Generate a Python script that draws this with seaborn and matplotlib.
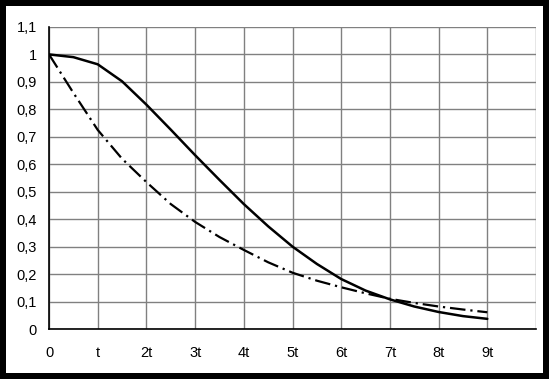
import matplotlib.pyplot as plt
import seaborn as sns
import pandas as pd

# values (x in units of t)
x_vals = [0, 0.5, 1, 1.5, 2, 2.5, 3, 3.5, 4, 4.5, 5, 5.5, 6, 6.5, 7, 7.5, 8, 8.5, 9]
solid_vals = [1.0, 0.99, 0.964, 0.902, 0.817, 0.726, 0.633, 0.543, 0.455, 0.374, 0.30,
              0.237, 0.182, 0.14, 0.108, 0.082, 0.062, 0.047, 0.037]
dashdot_vals = [1.0, 0.86, 0.725, 0.62, 0.535, 0.455, 0.39, 0.335, 0.288, 0.243, 0.205,
                0.176, 0.152, 0.13, 0.11, 0.095, 0.082, 0.071, 0.061]
x_labels = ["0", "t", "2t", "3t", "4t", "5t", "6t", "7t", "8t", "9t", ""]
y_ticks = [0, 0.1, 0.2, 0.3, 0.4, 0.5, 0.6, 0.7, 0.8, 0.9, 1.0, 1.1]
y_labels = ["0", "0,1", "0,2", "0,3", "0,4", "0,5", "0,6", "0,7", "0,8", "0,9", "1", "1,1"]

df = pd.DataFrame({"x": x_vals, "solid": solid_vals, "dashdot": dashdot_vals})

sns.set_style("white")
plt.rcParams['font.family'] = ['Liberation Sans', 'DejaVu Sans']

fig = plt.figure(figsize=(5.49, 3.79), dpi=100)
fig.patch.set_facecolor("white")
fig.patch.set_edgecolor("black")
fig.patch.set_linewidth(7.5)
ax = fig.add_axes([0.0893, 0.1319, 0.887, 0.797])

sns.lineplot(data=df, x="x", y="solid", ax=ax, color="black", linewidth=1.8)
sns.lineplot(data=df, x="x", y="dashdot", ax=ax, color="black", linewidth=1.6,
             linestyle=(0, (7, 2.2, 1, 2.2)))

ax.set_xlim(0, 10)
ax.set_ylim(0, 1.1)
ax.set_xticks(range(11))
ax.set_xticklabels(x_labels)
ax.set_yticks(y_ticks)
ax.set_yticklabels(y_labels)
ax.set_xlabel("")
ax.set_ylabel("")

ax.grid(True, color="#808080", linewidth=1)
ax.set_axisbelow(True)
for side in ["top", "right"]:
    ax.spines[side].set_visible(False)
for side in ["left", "bottom"]:
    ax.spines[side].set_color("black")
    ax.spines[side].set_linewidth(1.2)

ax.tick_params(axis="x", direction="inout", length=6, width=1, pad=9.5, labelsize=10.5, colors="black")
ax.tick_params(axis="y", direction="out", length=3.6, width=1, pad=5, labelsize=10.5, colors="black")

fig.savefig("out.png", dpi=100, facecolor=fig.get_facecolor(), edgecolor=fig.get_edgecolor())
